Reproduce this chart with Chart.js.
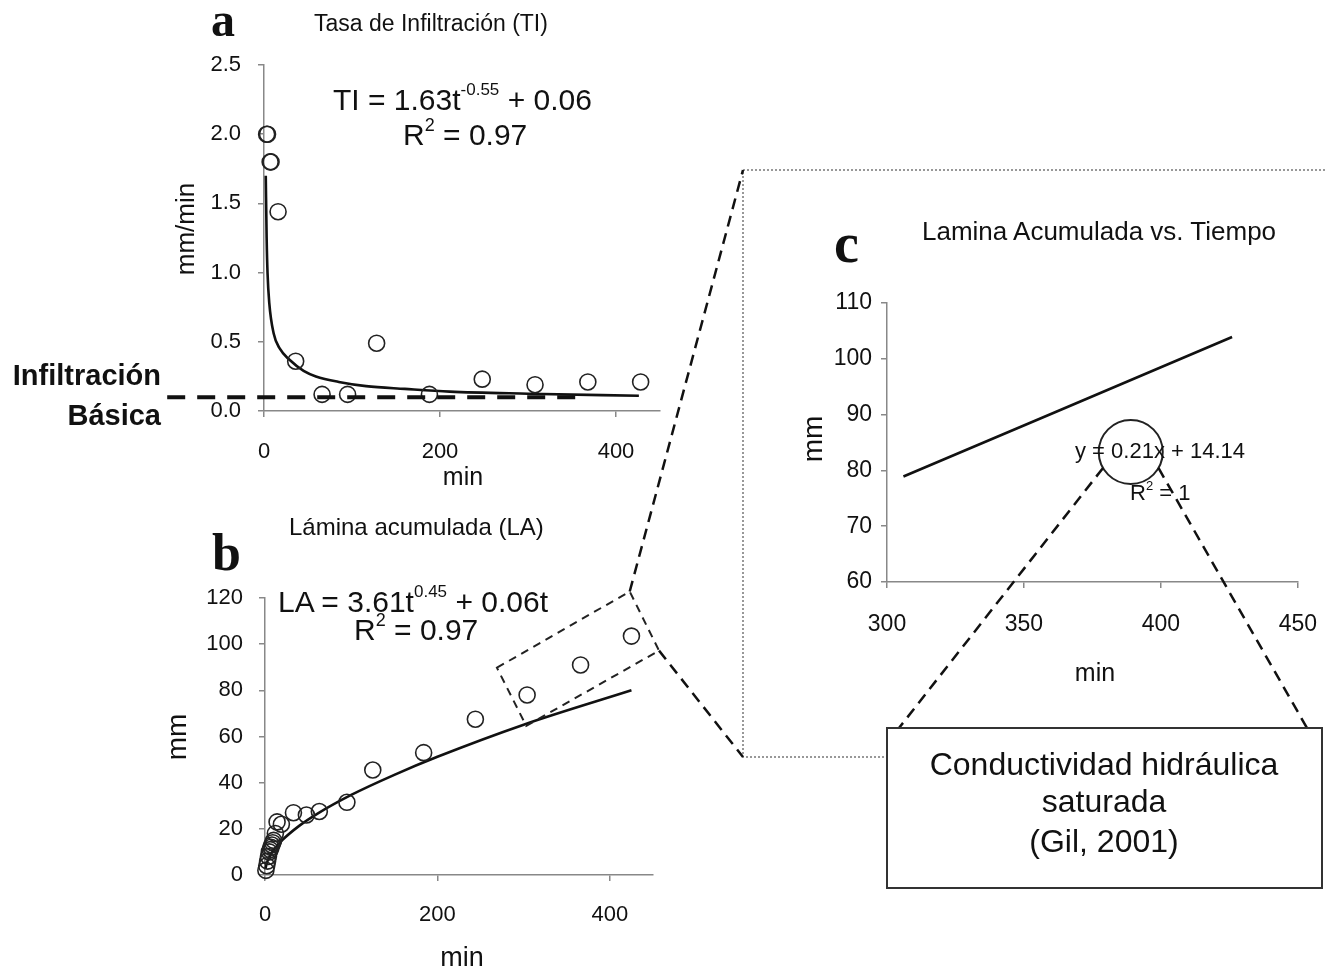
<!DOCTYPE html>
<html>
<head>
<meta charset="utf-8">
<script src="https://cdn.jsdelivr.net/npm/chart.js@4.4.1/dist/chart.umd.min.js"></script>
<style>
  html, body { margin: 0; padding: 0; background: #fff; }
  #page { position: relative; width: 1325px; height: 971px; overflow: hidden; }
  canvas.panel { position: absolute; }
  #overlay { position: absolute; left: 0; top: 0; z-index: 2; }
  #overlay text { font-family: "Liberation Sans", Arial, sans-serif; fill: #111; }
  #overlay text.tag { font-family: "Liberation Serif", "Times New Roman", serif; font-weight: bold; }
</style>
</head>
<body>
<div id="page">
  <canvas id="chartA" class="panel" style="left:0;top:0" width="700" height="500"></canvas>
  <canvas id="chartB" class="panel" style="left:0;top:500px" width="700" height="471"></canvas>
  <canvas id="chartC" class="panel" style="left:760px;top:280px" width="580" height="420"></canvas>

  <svg id="overlay" width="1325" height="971">
    <!-- frame round panel c -->
    <path d="M1325 170 L743 170 L743 757 L887 757" fill="none" stroke="#777" stroke-width="1.5" stroke-dasharray="2,2"/>
    <g id="links"></g>

    <!-- panel a -->
    <text x="211" y="36" font-size="48" class="tag">a</text>
    <text x="314" y="31" font-size="23">Tasa de Infiltración (TI)</text>
    <text x="333" y="110" font-size="30">TI = 1.63t<tspan dy="-15" font-size="17">-0.55</tspan><tspan dy="15"> + 0.06</tspan></text>
    <text x="403" y="145" font-size="30">R<tspan dy="-14" font-size="18">2</tspan><tspan dy="14"> = 0.97</tspan></text>
    <text x="161" y="385" font-size="29" font-weight="bold" text-anchor="end">Infiltración</text>
    <text x="161" y="425" font-size="29" font-weight="bold" text-anchor="end">Básica</text>
    <text transform="translate(194,229) rotate(-90)" font-size="26" text-anchor="middle">mm/min</text>
    <text x="463" y="485" font-size="25" text-anchor="middle">min</text>

    <!-- panel b -->
    <text x="212" y="570" font-size="52" class="tag">b</text>
    <text x="289" y="535" font-size="24">Lámina acumulada (LA)</text>
    <text x="278" y="612" font-size="30">LA = 3.61t<tspan dy="-15" font-size="17">0.45</tspan><tspan dy="15"> + 0.06t</tspan></text>
    <text x="354" y="640" font-size="30">R<tspan dy="-14" font-size="18">2</tspan><tspan dy="14"> = 0.97</tspan></text>
    <text transform="translate(186,737) rotate(-90)" font-size="28" text-anchor="middle">mm</text>
    <text x="462" y="966" font-size="27" text-anchor="middle">min</text>

    <!-- panel c -->
    <text x="834" y="262" font-size="56" class="tag">c</text>
    <text x="922" y="240" font-size="26">Lamina Acumulada vs. Tiempo</text>
    <text transform="translate(822,439) rotate(-90)" font-size="28" text-anchor="middle">mm</text>
    <text x="1095" y="681" font-size="25" text-anchor="middle">min</text>
    <text x="1075" y="458" font-size="22">y = 0.21x + 14.14</text>
    <text x="1130" y="500" font-size="22">R<tspan dy="-10" font-size="13">2</tspan><tspan dy="10"> = 1</tspan></text>

    <!-- note box -->
    <rect x="887" y="728" width="435" height="160" fill="#fff" stroke="#333" stroke-width="2"/>
    <text x="1104" y="775" font-size="32" text-anchor="middle">Conductividad hidráulica</text>
    <text x="1104" y="812" font-size="32" text-anchor="middle">saturada</text>
    <text x="1104" y="852" font-size="32" text-anchor="middle">(Gil, 2001)</text>
  </svg>
</div>

<script>
/* ---------- data ---------- */

// a: infiltration rate (mm/min) vs time (min)
const tiTime = [3, 4, 7, 8, 16, 36, 66, 95, 128, 188, 248, 308, 368, 428];
const tiRate = [2.0, 2.0, 1.8, 1.8, 1.44, 0.36, 0.12, 0.12, 0.49, 0.12, 0.23, 0.19, 0.21, 0.21];
// fitted curve TI = 1.63t^-0.55 + 0.06, as drawn
const tiFitTime = [2, 3, 4, 6, 11, 18, 29, 45, 59, 85, 116, 160, 211, 300, 426];
const tiFitRate = [1.70, 1.25, 1.00, 0.78, 0.56, 0.45, 0.37, 0.29, 0.25, 0.21, 0.18, 0.16, 0.14, 0.125, 0.11];
const basicRate = 0.1;          // "Infiltración Básica" level
const basicFrom = -110, basicTo = 365;

// b: cumulative depth (mm) vs time (min)
const laTime = [1, 2, 3, 4, 5, 6, 7, 8, 9, 10, 12, 14, 19, 33, 48, 63, 95, 125, 184, 244, 304, 366, 425];
const laDepth = [2, 4, 6, 8, 10, 11, 12, 13, 14, 15, 18, 23, 22, 27, 26, 27.5, 31.5, 45.5, 53, 67.5, 78, 91, 103.5];
// fitted curve LA = 3.61t^0.45 + 0.06t, as drawn
const laFitTime = [0.5, 2, 5, 10, 20, 40, 60, 100, 150, 200, 300, 425];
const laFitDepth = [2.7, 5, 7.8, 10.8, 15.1, 21.4, 26.4, 34.7, 43.4, 51.2, 65.1, 80];
// dashed zoom box round the last three points (min, mm)
const zoomBox = [[269, 89.8], [423, 122.8], [457, 97.2], [303, 64.6]];

// c: linear segment y = 0.21x + 14.14
const linTime = [306, 426];
const linDepth = [78.9, 103.9];
const ringAt = [389, 83.3];

/* ---------- helpers ---------- */

const FONT = '"Liberation Sans", Arial, sans-serif';
const AXIS = "#888";

function pts(xs, ys) {
    return xs.map((x, i) => ({ x, y: ys[i] }));
}

function axis(min, max, step, opts) {
    return {
        type: "linear",
        min, max,
        ticks: {
            stepSize: step,
            includeBounds: false,
            padding: opts.pad,
            color: "#111",
            font: { family: FONT, size: opts.size || 22 },
            callback: opts.fmt || (v => v)
        },
        grid: { drawOnChartArea: false, drawTicks: true, tickLength: 6, color: AXIS, lineWidth: 1.5 },
        border: { color: AXIS, width: 1.5 },
        afterFit: opts.y ? (s => { s.width = opts.box; }) : (s => { s.height = opts.box; })
    };
}

function scatterSet(data) {
    return {
        data, showLine: false, clip: false,
        pointRadius: 8, pointBorderWidth: 1.6,
        pointBorderColor: "#222", pointBackgroundColor: "rgba(0,0,0,0)"
    };
}

function fitSet(data) {
    return {
        data, showLine: true, clip: false,
        pointRadius: 0, borderColor: "#111", borderWidth: 2.6,
        cubicInterpolationMode: "monotone"
    };
}

function baseOptions(padding, scales) {
    return {
        responsive: false,
        animation: false,
        events: [],
        layout: { padding },
        plugins: { legend: { display: false }, tooltip: { enabled: false } },
        scales
    };
}

/* ---------- plugins ---------- */

const basicLine = {
    id: "basicLine",
    afterDatasetsDraw(chart) {
        const { ctx, scales: { x, y } } = chart;
        const py = y.getPixelForValue(basicRate);
        ctx.save();
        ctx.strokeStyle = "#111";
        ctx.lineWidth = 4;
        ctx.setLineDash([18, 12]);
        ctx.beginPath();
        ctx.moveTo(x.getPixelForValue(basicFrom), py);
        ctx.lineTo(x.getPixelForValue(basicTo), py);
        ctx.stroke();
        ctx.restore();
    }
};

const zoomFrame = {
    id: "zoomFrame",
    afterDatasetsDraw(chart) {
        const { ctx, scales: { x, y } } = chart;
        ctx.save();
        ctx.strokeStyle = "#222";
        ctx.lineWidth = 2;
        ctx.setLineDash([8, 6]);
        ctx.beginPath();
        zoomBox.forEach(([t, v], i) => {
            const px = x.getPixelForValue(t), py = y.getPixelForValue(v);
            if (i === 0) ctx.moveTo(px, py); else ctx.lineTo(px, py);
        });
        ctx.closePath();
        ctx.stroke();
        ctx.restore();
    }
};

const ring = {
    id: "ring",
    afterDatasetsDraw(chart) {
        const { ctx, scales: { x, y } } = chart;
        ctx.save();
        ctx.strokeStyle = "#222";
        ctx.lineWidth = 2;
        ctx.beginPath();
        ctx.arc(x.getPixelForValue(ringAt[0]), y.getPixelForValue(ringAt[1]), 32, 0, Math.PI * 2);
        ctx.stroke();
        ctx.restore();
    }
};

/* ---------- charts ---------- */

const chartA = new Chart(document.getElementById("chartA"), {
    type: "scatter",
    data: { datasets: [scatterSet(pts(tiTime, tiRate)), fitSet(pts(tiFitTime, tiFitRate))] },
    options: baseOptions({ left: 204, right: 40, top: 65, bottom: 40 }, {
        x: axis(0, 450, 200, { pad: 22, box: 49 }),
        y: axis(0, 2.5, 0.5, { pad: 17, box: 60, y: true, fmt: v => v.toFixed(1) })
    }),
    plugins: [basicLine]
});

const chartB = new Chart(document.getElementById("chartB"), {
    type: "scatter",
    data: { datasets: [scatterSet(pts(laTime, laDepth)), fitSet(pts(laFitTime, laFitDepth))] },
    options: baseOptions({ left: 205, right: 47, top: 98, bottom: 46 }, {
        x: axis(0, 450, 200, { pad: 21, box: 50 }),
        y: axis(0, 120, 20, { pad: 16, box: 60, y: true })
    }),
    plugins: [zoomFrame]
});

const chartC = new Chart(document.getElementById("chartC"), {
    type: "scatter",
    data: { datasets: [fitSet(pts(linTime, linDepth))] },
    options: baseOptions({ left: 67, right: 28, top: 23, bottom: 68 }, {
        x: axis(300, 450, 50, { pad: 23, box: 50, size: 23 }),
        y: axis(60, 110, 10, { pad: 9, box: 60, y: true, size: 23 })
    }),
    plugins: [ring]
});

/* ---------- dashed connectors between panels ---------- */

function pagePoint(chart, xv, yv) {
    const c = chart.canvas;
    return [c.offsetLeft + chart.scales.x.getPixelForValue(xv),
            c.offsetTop + chart.scales.y.getPixelForValue(yv)];
}

function dashed(p, q) {
    const l = document.createElementNS("http://www.w3.org/2000/svg", "line");
    l.setAttribute("x1", p[0]); l.setAttribute("y1", p[1]);
    l.setAttribute("x2", q[0]); l.setAttribute("y2", q[1]);
    l.setAttribute("stroke", "#111");
    l.setAttribute("stroke-width", "2.5");
    l.setAttribute("stroke-dasharray", "11,7");
    document.getElementById("links").appendChild(l);
}

const topRight = pagePoint(chartB, zoomBox[1][0], zoomBox[1][1]);
const lowRight = pagePoint(chartB, zoomBox[2][0], zoomBox[2][1]);
dashed(topRight, [743, 170]);
dashed(lowRight, [743, 757]);

const ringCenter = pagePoint(chartC, ringAt[0], ringAt[1]);
const a1 = Math.PI * 5 / 6, a2 = Math.PI / 6;
dashed([ringCenter[0] + 32 * Math.cos(a1), ringCenter[1] + 32 * Math.sin(a1)], [899, 728]);
dashed([ringCenter[0] + 32 * Math.cos(a2), ringCenter[1] + 32 * Math.sin(a2)], [1307, 728]);
</script>
</body>
</html>
